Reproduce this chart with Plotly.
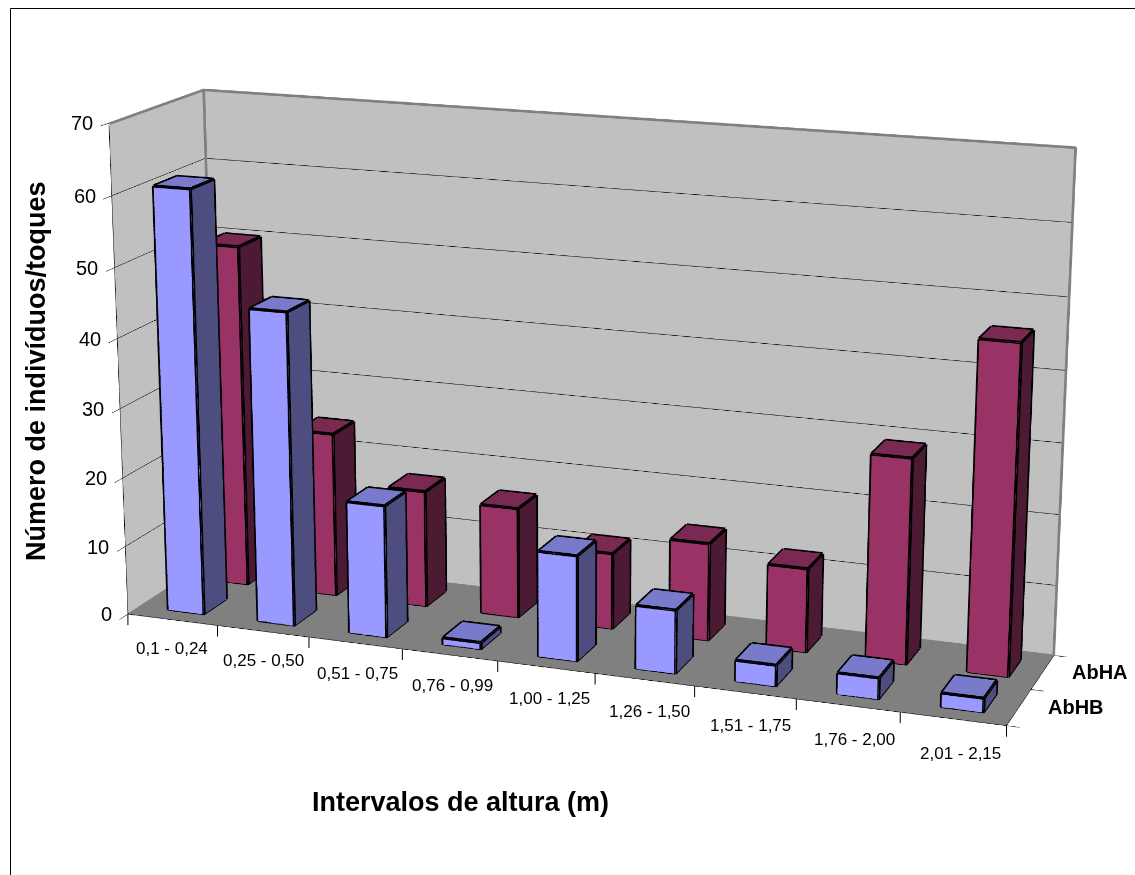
import plotly.graph_objects as go

categories = ["0,1 - 0,24", "0,25 - 0,50", "0,51 - 0,75", "0,76 - 0,99", "1,00 - 1,25",
              "1,26 - 1,50", "1,51 - 1,75", "1,76 - 2,00", "2,01 - 2,15"]
series_names = ["AbHB", "AbHA"]
abhb = [61, 45, 19, 1, 15, 9, 3, 3, 2]
abha = [50, 24, 17, 16, 11, 14, 12, 29, 46]
z_ticks = [0, 10, 20, 30, 40, 50, 60, 70]

# Visible page size, and the larger canvas the 3D scene is rendered on.
W, H = 1135, 875
CW, CH = 3514, 2710
OX, OY = 1190, 918


def px(x):
    return (x + OX) / CW


def py(y):
    return 1 - (y + OY) / CH


def bar_traces(values, y0, y1, front, top, side, name):
    """One mesh of closed boxes for a series, plus their black outlines."""
    xs, ys, zs, I, J, K, fc = [], [], [], [], [], [], []
    lx, ly, lz = [], [], []
    for n, v in enumerate(values):
        x0, x1 = n + .325, n + .725
        b = len(xs)
        for (a, c, d) in [(x0, y0, 0), (x1, y0, 0), (x1, y1, 0), (x0, y1, 0),
                          (x0, y0, v), (x1, y0, v), (x1, y1, v), (x0, y1, v)]:
            xs.append(a)
            ys.append(c)
            zs.append(d)
        faces = [((0, 1, 5), front), ((0, 5, 4), front), ((1, 2, 6), side), ((1, 6, 5), side),
                 ((4, 5, 6), top), ((4, 6, 7), top), ((2, 3, 7), side), ((2, 7, 6), side),
                 ((3, 0, 4), side), ((3, 4, 7), side), ((0, 1, 2), side), ((0, 2, 3), side)]
        for (i, j, k), col in faces:
            I.append(b + i)
            J.append(b + j)
            K.append(b + k)
            fc.append(col)
        for e in [(0, 1), (1, 2), (2, 3), (3, 0), (4, 5), (5, 6), (6, 7), (7, 4),
                  (0, 4), (1, 5), (2, 6), (3, 7)]:
            for t in e:
                lx.append(xs[b + t])
                ly.append(ys[b + t])
                lz.append(zs[b + t])
            lx.append(None)
            ly.append(None)
            lz.append(None)
    mesh = go.Mesh3d(x=xs, y=ys, z=zs, i=I, j=J, k=K, facecolor=fc, flatshading=True, name=name,
                     lighting=dict(ambient=1, diffuse=0, specular=0, fresnel=0, roughness=1),
                     hoverinfo="skip")
    edges = go.Scatter3d(x=lx, y=ly, z=lz, mode="lines", line=dict(color="black", width=6),
                         showlegend=False, hoverinfo="skip")
    return [mesh, edges]


fig = go.Figure()
fig.add_traces(bar_traces(abhb, .25, .75, "#9999FF", "#7A7ACC", "#4D4D80", series_names[0]))
fig.add_traces(bar_traces(abha, 1.25, 1.75, "#993366", "#7A2952", "#4D1A33", series_names[1]))

nx, ny, nz = len(categories), len(series_names), z_ticks[-1]
eps = 0.012

# Wall outline, just in front of the gridlines that share those edges.
wall_line = dict(color="#808080", width=5)
fig.add_trace(go.Scatter3d(x=[eps, eps, nx, nx], y=[0, ny - eps, ny - eps, ny - eps],
                           z=[nz - .05, nz - .05, nz - .05, 0], mode="lines", line=wall_line,
                           showlegend=False, hoverinfo="skip"))
fig.add_trace(go.Scatter3d(x=[eps, eps], y=[ny - eps, ny - eps], z=[nz, 0], mode="lines", line=wall_line,
                           showlegend=False, hoverinfo="skip"))
# Hide the zero gridline where the floor meets the walls.
fig.add_trace(go.Scatter3d(x=[eps, eps, nx], y=[0, ny - eps, ny - eps], z=[.08, .08, .08], mode="lines",
                           line=dict(color="#808080", width=3), showlegend=False, hoverinfo="skip"))

scene_notes = []
for n, c in enumerate(categories):
    scene_notes.append(dict(x=n + .5, y=0, z=0, text=c, showarrow=False, yshift=-(29 + .65 * n), xshift=.9 * n,
                            font=dict(family="Liberation Sans", size=17, color="black")))
# Category boundaries get vertical tick marks below the floor's front edge.
for k in range(nx + 1):
    scene_notes.append(dict(x=k, y=0, z=0, text="&nbsp;", font=dict(size=1), showarrow=True, arrowhead=0,
                            arrowwidth=1, arrowcolor="black", ax=0, ay=13, standoff=0))
for z in z_ticks:
    scene_notes.append(dict(x=0, y=0, z=z, text=str(z), showarrow=False, xanchor="right", xshift=-14,
                            font=dict(family="Liberation Sans", size=20, color="black")))
for n, s in enumerate(series_names):
    scene_notes.append(dict(x=nx, y=n + .5, z=0, text=s, showarrow=False, xshift=57,
                            font=dict(family="Liberation Sans", size=20, color="black", weight="bold")))

axis = dict(title="", showticklabels=False, showspikes=False, zeroline=False, ticks="outside", ticklen=14,
            tickcolor="black", showline=True, linecolor="black", linewidth=1)
fig.update_layout(
    width=CW, height=CH, margin=dict(l=0, r=0, t=0, b=0), showlegend=False,
    paper_bgcolor="white",
    scene=dict(
        domain=dict(x=[0, 1], y=[0, 1]),
        xaxis=dict(axis, range=[0, nx], tickvals=list(range(nx + 1)), ticks="", showgrid=False,
                   showbackground=True, backgroundcolor="#C0C0C0"),
        yaxis=dict(axis, range=[0, ny], tickvals=list(range(ny + 1)), showgrid=False,
                   showbackground=True, backgroundcolor="#C0C0C0"),
        zaxis=dict(axis, range=[0, nz], tickvals=z_ticks, showgrid=True, gridcolor="black", gridwidth=1,
                   showbackground=True, backgroundcolor="#808080"),
        aspectmode="manual", aspectratio=dict(x=1.6, y=0.3605, z=0.8891),
        camera=dict(up=dict(x=0.0021, y=0.0016, z=1),
                    eye=dict(x=1.8659, y=-5.1027, z=1.4602),
                    center=dict(x=-0.0173, y=-0.0314, z=-0.0773),
                    projection=dict(type="perspective")),
        annotations=scene_notes,
    ),
    annotations=[
        dict(xref="paper", yref="paper", x=px(460), y=py(802), text="<b>Intervalos de altura (m)</b>",
             showarrow=False, font=dict(family="Liberation Sans", size=27, color="black")),
        dict(xref="paper", yref="paper", x=px(36), y=py(371), text="<b>Número de indivíduos/toques</b>",
             showarrow=False, textangle=-90, font=dict(family="Liberation Sans", size=27, color="black")),
    ],
    shapes=[
        dict(type="line", xref="paper", yref="paper", x0=px(10.5), x1=px(W), y0=py(8.5), y1=py(8.5),
             line=dict(color="black", width=1)),
        dict(type="line", xref="paper", yref="paper", x0=px(10.5), x1=px(10.5), y0=py(8.5), y1=py(H),
             line=dict(color="black", width=1)),
    ],
)

# plotly's 3D field of view is fixed, so a long lens needs a larger canvas: the page frames its centre.
frame = ("document.documentElement.style.overflow='hidden';document.body.style.overflow='hidden';"
         "var gd=document.getElementById('{plot_id}');gd.style.position='absolute';"
         f"gd.style.left='{-OX}px';gd.style.top='{-OY}px';")
fig.write_html("out.html", post_script=frame)
